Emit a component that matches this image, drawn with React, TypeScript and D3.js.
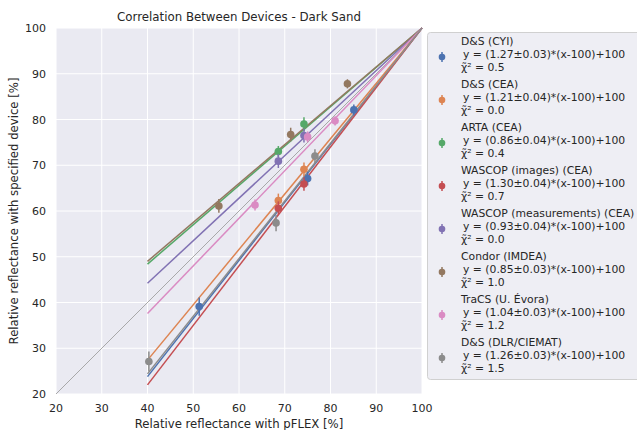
import React from "react";
import * as d3 from "d3";

const seriesNames = [
  "D&S (CYI)",
  "D&S (CEA)",
  "ARTA (CEA)",
  "WASCOP (images) (CEA)",
  "WASCOP (measurements) (CEA)",
  "Condor (IMDEA)",
  "TraCS (U. Évora)",
  "D&S (DLR/CIEMAT)",
];
const slopes = [1.27, 1.21, 0.86, 1.3, 0.93, 0.85, 1.04, 1.26];
const slopeErrs = ["0.03", "0.04", "0.04", "0.04", "0.04", "0.03", "0.03", "0.03"];
const chi2 = ["0.5", "0.0", "0.4", "0.7", "0.0", "1.0", "1.2", "1.5"];
const colors = ["#4C72B0", "#DD8452", "#55A868", "#C44E52", "#8172B3", "#937860", "#DA8BC3", "#8C8C8C"];

const pointsX = [
  [51.3, 75.0, 85.1],
  [68.6, 74.2],
  [68.6, 74.2],
  [68.6, 74.2],
  [68.6, 74.2],
  [55.6, 71.3, 83.7],
  [63.5, 75.0, 81.0],
  [40.3, 68.1, 76.6],
];
const pointsY = [
  [39.1, 67.1, 82.1],
  [62.3, 69.1],
  [73.0, 79.0],
  [60.6, 65.9],
  [70.9, 76.5],
  [61.1, 76.7, 87.8],
  [61.3, 76.2, 79.7],
  [27.1, 57.4, 72.0],
];
const pointsErr = [
  [2.0, 1.5, 1.2],
  [1.5, 1.5],
  [1.2, 1.5],
  [1.5, 1.5],
  [1.5, 1.5],
  [1.5, 1.5, 1.0],
  [1.2, 1.2, 1.0],
  [2.2, 1.8, 1.5],
];
const ticks = [20, 30, 40, 50, 60, 70, 80, 90, 100];
const fitStart = 40;

export default function App() {
  const x = d3.scaleLinear().domain([20, 100]).range([56, 422]);
  const y = d3.scaleLinear().domain([20, 100]).range([394, 28]);
  const line = d3
    .line<[number, number]>()
    .x((d) => x(d[0]))
    .y((d) => y(d[1]));
  const font = "DejaVu Sans, sans-serif";
  const txt = "#262626";
  return (
    <svg
      width={637}
      height={430}
      style={{ position: "absolute", left: 0, top: 0, background: "#fff" }}
      fontFamily={font}
    >
      <rect x={56} y={28} width={366} height={366} fill="#EAEAF2" />
      {ticks.map((t) => (
        <g key={"g" + t}>
          <line x1={x(t)} x2={x(t)} y1={28} y2={394} stroke="#fff" strokeWidth={1} />
          <line x1={56} x2={422} y1={y(t)} y2={y(t)} stroke="#fff" strokeWidth={1} />
          <text x={x(t)} y={412} textAnchor="middle" fontSize={11} fill={txt}>
            {t}
          </text>
          <text x={46} y={y(t) + 4} textAnchor="end" fontSize={11} fill={txt}>
            {t}
          </text>
        </g>
      ))}
      <path d={line([[20, 20], [100, 100]]) || ""} stroke="#A0A0A0" strokeWidth={0.9} fill="none" />
      {slopes.map((s, i) => (
        <path
          key={"l" + i}
          d={line([[fitStart, s * (fitStart - 100) + 100], [100, 100]]) || ""}
          stroke={colors[i]}
          strokeWidth={1.5}
          fill="none"
        />
      ))}
      {pointsX.map((xs, i) => (
        <g key={"p" + i}>
          {xs.map((xv, j) => (
            <g key={j}>
              <line
                x1={x(xv)}
                x2={x(xv)}
                y1={y(pointsY[i][j] - pointsErr[i][j])}
                y2={y(pointsY[i][j] + pointsErr[i][j])}
                stroke={colors[i]}
                strokeWidth={1.5}
              />
              <circle cx={x(xv)} cy={y(pointsY[i][j])} r={3.8} fill={colors[i]} />
            </g>
          ))}
        </g>
      ))}
      <text x={239} y={21} textAnchor="middle" fontSize={11.8} fill={txt}>
        Correlation Between Devices - Dark Sand
      </text>
      <text x={239} y={428} textAnchor="middle" fontSize={11.7} fill={txt}>
        Relative reflectance with pFLEX [%]
      </text>
      <text
        transform={`translate(18,211) rotate(-90)`}
        textAnchor="middle"
        fontSize={11.7}
        fill={txt}
      >
        Relative reflectance with specified device [%]
      </text>
      <rect x={427.5} y={32.5} width={215} height={347} rx={3} fill="#EEEEF4" stroke="#D0D0D0" strokeWidth={1} />
      {seriesNames.map((n, i) => {
        const by = 45 + i * 43;
        return (
          <g key={"lg" + i}>
            <line x1={442} x2={442} y1={by + 7} y2={by + 17} stroke={colors[i]} strokeWidth={1.5} />
            <circle cx={442} cy={by + 12} r={3.3} fill={colors[i]} />
            <text x={461} y={by} fontSize={10.8} fill={txt}>
              {n}
            </text>
            <text x={463} y={by + 13} fontSize={10.8} fill={txt}>
              {`y = (${slopes[i].toFixed(2)}±${slopeErrs[i]})*(x-100)+100`}
            </text>
            <text x={461} y={by + 26} fontSize={10.8} fill={txt}>
              {`χ̃² = ${chi2[i]}`}
            </text>
          </g>
        );
      })}
    </svg>
  );
}
